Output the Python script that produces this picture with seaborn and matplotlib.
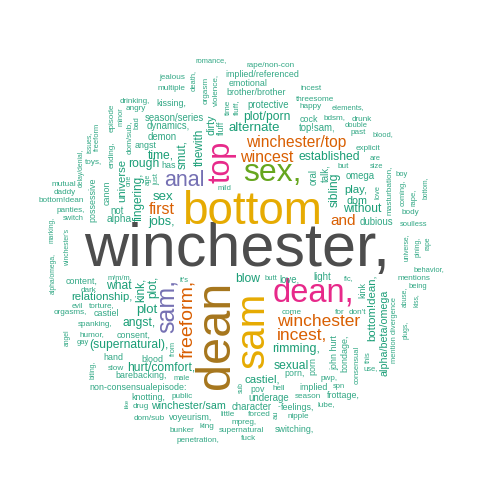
import matplotlib.pyplot as plt
import seaborn as sns

# palette used by the cloud (Dark2)
pal = sns.color_palette("Dark2", 8).as_hex()
palette = {"t": pal[0], "o": pal[1], "p": pal[2], "m": pal[3],
           "g": pal[4], "y": pal[5], "b": pal[6], "k": "#4d4d4d"}

# words, size (pt) and colour key
words = ["winchester,", "bottom", "dean", "sam", "dean,", "sex,", "top", "anal",
         "winchester/top", "wincest", "established", "first", "sam,", "freeform,",
         "winchester", "incest,", "and", "bottom!dean,", "rimming,", "sexual",
         "castiel,", "hurt/comfort,", "(supernatural),", "relationship,", "angst,",
         "plot", "kink,", "plot,", "what", "blow", "alternate", "plot/porn",
         "winchester/sam", "jobs,", "sex", "fingering,", "universe", "time,",
         "rough", "smut,", "thewith", "dirty", "sibling", "play,", "without", "dom",
         "alpha/beta/omega"]
sizes = [44, 33, 35, 29, 23.5, 23, 22, 15.5, 11.2, 11.5, 8.7, 11.5, 18, 14, 12.5,
         12.5, 11, 8.2, 9, 8.7, 8.2, 8.7, 8.7, 8.2, 8.7, 9.5, 8.5, 8.5, 8.7, 8.7,
         9.5, 8.7, 7.7, 9, 9.5, 8.5, 8.2, 8.7, 8.7, 8.5, 8.5, 7.7, 8.7, 8.2, 8.7,
         7.7, 7.7]
colors = ["k", "y", "b", "y", "m", "g", "m", "p", "o", "o", "t", "o", "p", "o",
          "o", "o", "o", "t", "t", "t", "t", "t", "t", "t", "t", "t", "t", "t",
          "t", "t", "t", "t", "t", "t", "t", "t", "t", "t", "t", "t", "t", "t",
          "t", "t", "t", "t", "t"]
layout = [(237, 250, 0), (252, 212, 0), (217, 335, 90), (253, 330, 90),
          (313, 293, 0), (272, 173, 0), (222, 162, 90), (184, 180, 0),
          (296, 142, 0), (267, 157, 0), (329, 157, 0), (162, 209, 0),
          (167, 306, 90), (188, 319, 90), (319, 322, 0), (302, 335, 0),
          (343, 221, 0), (372, 308, 90), (296, 349, 0), (291, 366, 0),
          (262, 379, 0), (161, 367, 0), (129, 345, 0), (102, 297, 0),
          (139, 323, 0), (147, 310, 0), (141, 290, 90), (153, 287, 90),
          (119, 286, 0), (248, 279, 0), (254, 128, 0), (267, 117, 0),
          (188, 406, 0), (162, 222, 0), (163, 197, 0), (139, 197, 90),
          (122, 180, 90), (161, 155, 0), (144, 164, 0), (183, 155, 90),
          (200, 147, 90), (212, 125, 90), (335, 190, 90), (356, 190, 0),
          (362, 209, 0), (357, 201, 0), (385, 333, 90)]

# small words, all in teal
small_words = ["romance,", "rape/non-con", "implied/referenced", "jealous", "emotional",
               "death,", "orgasm", "violence,", "brother/brother", "incest", "multiple",
               "drinking,", "kissing,", "angry", "threesome", "protective", "happy",
               "elements,", "time", "fluff,", "season/series", "minor", "bad", "dom/sub,",
               "episode", "ending,", "cock", "bdsm,", "drunk", "dynamics,", "fluff",
               "top!sam,", "double", "past", "blood,", "demon", "issues,", "freeform",
               "angst", "explicit", "delay/denial,", "toys,", "has", "are", "size",
               "masturbation,", "but", "oral", "talk,", "omega", "boy", "bottom,",
               "possessive", "canon", "one", "age", "just", "mild", "mutual", "daddy",
               "bottom!dean", "love", "coming,", "rape,", "body", "panties,", "switch",
               "not", "alpha", "dubious", "soulless", "marking,", "winchester's",
               "alpha/omega,", "universe,", "pining,", "rape", "behavior,", "mentions",
               "being", "content,", "m/m/m,", "it's", "butt", "love,", "light", "fic,",
               "dark", "kink", "abuse,", "kiss,", "mention divergence", "evil", "torture,",
               "orgasms,", "castiel", "come", "for", "don't", "plugs,", "spanking,",
               "humor,", "consent,", "angel", "gay", "john hurt", "bondage,", "porn",
               "from", "consensual", "this", "use,", "biting,", "hand", "blood", "slow",
               "barebacking,", "male", "porn,", "pwp,", "non-consensualepisode:", "sub",
               "pov", "hell", "implied", "spn", "knotting,", "public", "underage",
               "season", "frottage,", "like", "drug", "character", "-", "feelings,",
               "lube,", "au", "little", "forced", "nipple", "dom/sub", "voyeurism,",
               "mpreg,", "bunker", "king", "supernatural", "switching,", "penetration,",
               "fuck"]
small_sizes = [6, 6.5, 7, 6.5, 7, 6, 6.5, 6.5, 7, 6.5, 6.5, 6.5, 7, 6.5, 6.5, 7.5,
               6.5, 6, 6.5, 6.5, 7.5, 6, 6, 6.5, 6.5, 6.5, 7, 6.5, 6.5, 7.5, 7, 7.5,
               6, 6.5, 6, 7.5, 5.5, 6, 7, 6.5, 5.5, 6.5, 7, 6, 6, 6.5, 6.5, 7.5, 7.5,
               7.5, 6, 5.5, 7, 7, 5.5, 5.5, 6, 6, 6.5, 6.5, 6.5, 6, 6, 6, 6.5, 6.5,
               6, 7.5, 8, 7.5, 6, 5.5, 5.5, 5.5, 5.5, 5.5, 5.5, 6, 6.5, 6, 7, 6, 6,
               6, 7.5, 7.5, 6, 6.5, 7, 5.5, 5.5, 6, 6, 6.5, 6.5, 7, 6.5, 6.5, 6.5,
               5.5, 6.5, 6.5, 7, 5.5, 6, 7, 7, 7, 6, 6, 6, 6, 5.5, 7, 7, 6.5, 7, 6,
               7, 6.5, 7, 5.5, 7, 6.5, 7, 6, 7, 6.5, 7.5, 6.5, 7, 5, 6.5, 7.5, 6.5,
               7, 6.5, 6, 6.5, 6.5, 6.5, 6.5, 7, 6.5, 6.5, 6.5, 6.5, 7, 6.5, 6.5, 6.5]
small_layout = [(211, 62, 0), (271, 65, 0), (262, 74, 0), (172, 77, 0), (248, 83, 0),
                (193, 80, 90), (206, 90, 90), (216, 90, 90), (256, 92, 0), (311, 88, 0),
                (171, 88, 0), (135, 101, 0), (171, 103, 0), (136, 108, 0), (315, 99, 0),
                (268, 105, 0), (311, 106, 0), (348, 108, 0), (228, 107, 90),
                (236, 107, 90), (174, 118, 0), (121, 117, 90), (137, 123, 90),
                (129, 137, 90), (112, 118, 90), (112, 155, 90), (309, 119, 0),
                (335, 118, 0), (362, 119, 0), (168, 126, 0), (221, 128, 90),
                (317, 128, 0), (356, 125, 0), (358, 132, 0), (383, 135, 0),
                (162, 137, 0), (89, 142, 90), (97, 137, 90), (146, 145, 0),
                (368, 148, 0), (81, 168, 90), (94, 162, 0), (169, 166, 0),
                (375, 158, 0), (377, 166, 0), (389, 190, 90), (343, 167, 0),
                (314, 177, 90), (325, 173, 90), (360, 176, 0), (402, 174, 0),
                (425, 188, 90), (93, 200, 90), (107, 193, 90), (129, 180, 90),
                (148, 179, 90), (157, 179, 90), (224, 189, 0), (64, 185, 0),
                (65, 193, 0), (61, 201, 0), (378, 192, 90), (403, 193, 90),
                (414, 197, 90), (410, 212, 0), (71, 211, 0), (73, 219, 0),
                (117, 211, 0), (119, 219, 0), (376, 222, 0), (414, 224, 0),
                (52, 230, 90), (68, 247, 90), (53, 273, 90), (406, 247, 90),
                (418, 247, 90), (428, 243, 90), (429, 270, 0), (414, 279, 0),
                (418, 286, 0), (82, 281, 0), (120, 278, 0), (184, 280, 0),
                (271, 279, 0), (289, 279, 0), (322, 277, 0), (349, 279, 0),
                (89, 290, 0), (363, 290, 90), (404, 297, 90), (416, 300, 90),
                (395, 330, 90), (77, 306, 0), (102, 306, 0), (70, 313, 0),
                (106, 314, 0), (292, 312, 0), (340, 312, 0), (357, 312, 0),
                (406, 330, 90), (95, 324, 0), (92, 335, 0), (134, 335, 0),
                (67, 338, 90), (83, 343, 0), (335, 353, 90), (345, 353, 90),
                (313, 366, 90), (173, 348, 90), (357, 365, 90), (368, 357, 90),
                (371, 369, 0), (93, 370, 90), (113, 358, 0), (152, 359, 0),
                (116, 368, 0), (141, 376, 0), (182, 378, 0), (295, 373, 0),
                (329, 379, 0), (138, 387, 0), (241, 388, 90), (258, 389, 0),
                (279, 389, 0), (314, 388, 0), (339, 387, 0), (148, 397, 0),
                (182, 397, 0), (269, 398, 0), (308, 397, 0), (343, 396, 0),
                (127, 403, 90), (141, 406, 0), (252, 407, 0), (279, 407, 0),
                (298, 407, 0), (326, 405, 0), (276, 415, 90), (228, 414, 0),
                (259, 415, 0), (298, 417, 0), (149, 419, 0), (191, 418, 0),
                (244, 422, 0), (182, 430, 0), (207, 426, 0), (241, 430, 0),
                (294, 429, 0), (198, 440, 0), (248, 438, 0)]

sns.set_style("white")
plt.rcParams['font.family'] = ['Liberation Sans', 'DejaVu Sans']

fig, ax = plt.subplots(figsize=(4.79, 5.01), dpi=100)
fig.subplots_adjust(0, 0, 1, 1)
ax.set_xlim(0, 479)
ax.set_ylim(501, 0)
ax.axis("off")

for w, s, c, (x, y, r) in zip(words, sizes, colors, layout):
    ax.text(x, y, w, fontsize=s, color=palette[c], rotation=r,
            ha="center", va="center")

# small words a touch smaller to keep them from crowding
for w, s, (x, y, r) in zip(small_words, small_sizes, small_layout):
    ax.text(x, y, w, fontsize=s - 0.6, color=pal[0], rotation=r,
            ha="center", va="center", alpha=0.9)

fig.savefig("out.png", dpi=100)
